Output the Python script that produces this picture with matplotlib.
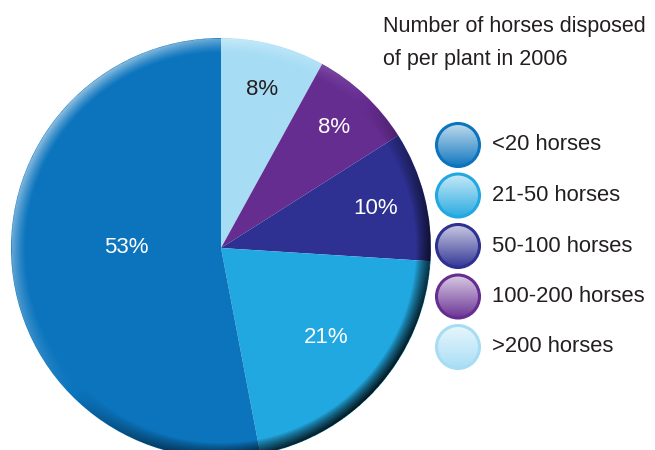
import numpy as np
import matplotlib
matplotlib.use("Agg")
import matplotlib.pyplot as plt
from matplotlib.patches import Circle
from matplotlib.colors import to_rgb

# ---- data ----
categories = ["<20 horses", "21-50 horses", "50-100 horses", "100-200 horses", ">200 horses"]
shares = [53, 21, 10, 8, 8]
colors = ["#0B74BD", "#22A8E0", "#2E3192", "#662D91", "#A6DDF5"]
label_colors = ["white", "white", "white", "white", "#231F20"]
title = "Number of horses disposed\nof per plant in 2006"

# label radius factors (fraction of pie radius) and angular nudges (deg)
label_r = [0.45, 0.66, 0.76, 0.785, 0.78]
label_dang = [-5.4, 1, 0, 0, 0]

FONT = ["Liberation Sans", "DejaVu Sans"]
plt.rcParams["font.family"] = FONT

W, H = 655, 450
fig = plt.figure(figsize=(W / 100, H / 100), dpi=100)
fig.patch.set_facecolor("white")

cx, cy, R = 221, 248, 210
ax = fig.add_axes([(cx - R) / W, (H - cy - R) / H, 2 * R / W, 2 * R / H])

# draw clockwise from top: >200, 100-200, 50-100, 21-50, <20
order = [4, 3, 2, 1, 0]
vals = [shares[i] for i in order]
cols = [colors[i] for i in order]
wedges, _ = ax.pie(vals, colors=cols, startangle=90, counterclock=False,
                   radius=1, wedgeprops=dict(linewidth=0))
ax.set_xlim(-1, 1)
ax.set_ylim(-1, 1)
ax.set_aspect("equal")
ax.axis("off")

for w, i in zip(wedges, order):
    mid = np.deg2rad((w.theta1 + w.theta2) / 2 + label_dang[i])
    r = label_r[i]
    ax.text(r * np.cos(mid), r * np.sin(mid), f"{shares[i]}%", ha="center", va="center",
            color=label_colors[i], fontsize=16)

# bevel shading at the rim
n = 700
xs = np.linspace(-1, 1, n)
X, Y = np.meshgrid(xs, xs[::-1])
Rr = np.hypot(X, Y) + 1e-9
s = (-X + Y) / np.sqrt(2) / Rr
t = np.clip((Rr - 0.93) / 0.07, 0, 1)
img = np.zeros((n, n, 4))
light = s > 0
img[..., :3] = np.where(light[..., None], 1.0, 0.0)
alpha = np.where(light, 0.55 * s * t ** 1.2, 0.9 * (-s) ** 0.8 * t ** 0.8)
alpha[Rr > 1] = 0
img[..., 3] = alpha
im = ax.imshow(img, extent=[-1, 1, -1, 1], zorder=5, interpolation="bilinear")
clip = Circle((0, 0), 1, transform=ax.transData)
im.set_clip_path(clip)
ax.set_xlim(-1, 1)
ax.set_ylim(-1, 1)

# title
fig.text(383 / W, 1 - 16 / H, title, ha="left", va="top", fontsize=15.5,
         color="#231F20", linespacing=1.75)

# legend with gradient circles
lax = fig.add_axes([0, 0, 1, 1])
lax.set_xlim(0, W)
lax.set_ylim(H, 0)
lax.axis("off")
lax.patch.set_alpha(0)
leg_y0, leg_dy, leg_x, leg_r = 145, 50.5, 458, 21.5
for k, (lab, col) in enumerate(zip(categories, colors)):
    yk = leg_y0 + k * leg_dy
    base = np.array(to_rgb(col))
    g = np.linspace(0, 1, 100)[:, None]
    top = base + (1 - base) * 0.75
    grad = top[None, None, :] * (1 - g[..., None]) + base[None, None, :] * g[..., None] * 0.95 + \
        0.05 * top[None, None, :] * g[..., None]
    grad = np.repeat(grad, 10, axis=1)
    gim = lax.imshow(grad, extent=[leg_x - leg_r, leg_x + leg_r, yk + leg_r, yk - leg_r],
                     zorder=2, interpolation="bilinear", aspect="auto")
    cp = Circle((leg_x, yk), leg_r, transform=lax.transData)
    gim.set_clip_path(cp)
    lax.add_patch(Circle((leg_x, yk), leg_r, facecolor="none", edgecolor=col, lw=2.2, zorder=3))
    lax.text(leg_x + 34, yk, lab, ha="left", va="center", fontsize=15.8, color="#231F20")
lax.set_xlim(0, W)
lax.set_ylim(H, 0)

fig.savefig("out.png", dpi=100, facecolor="white")
